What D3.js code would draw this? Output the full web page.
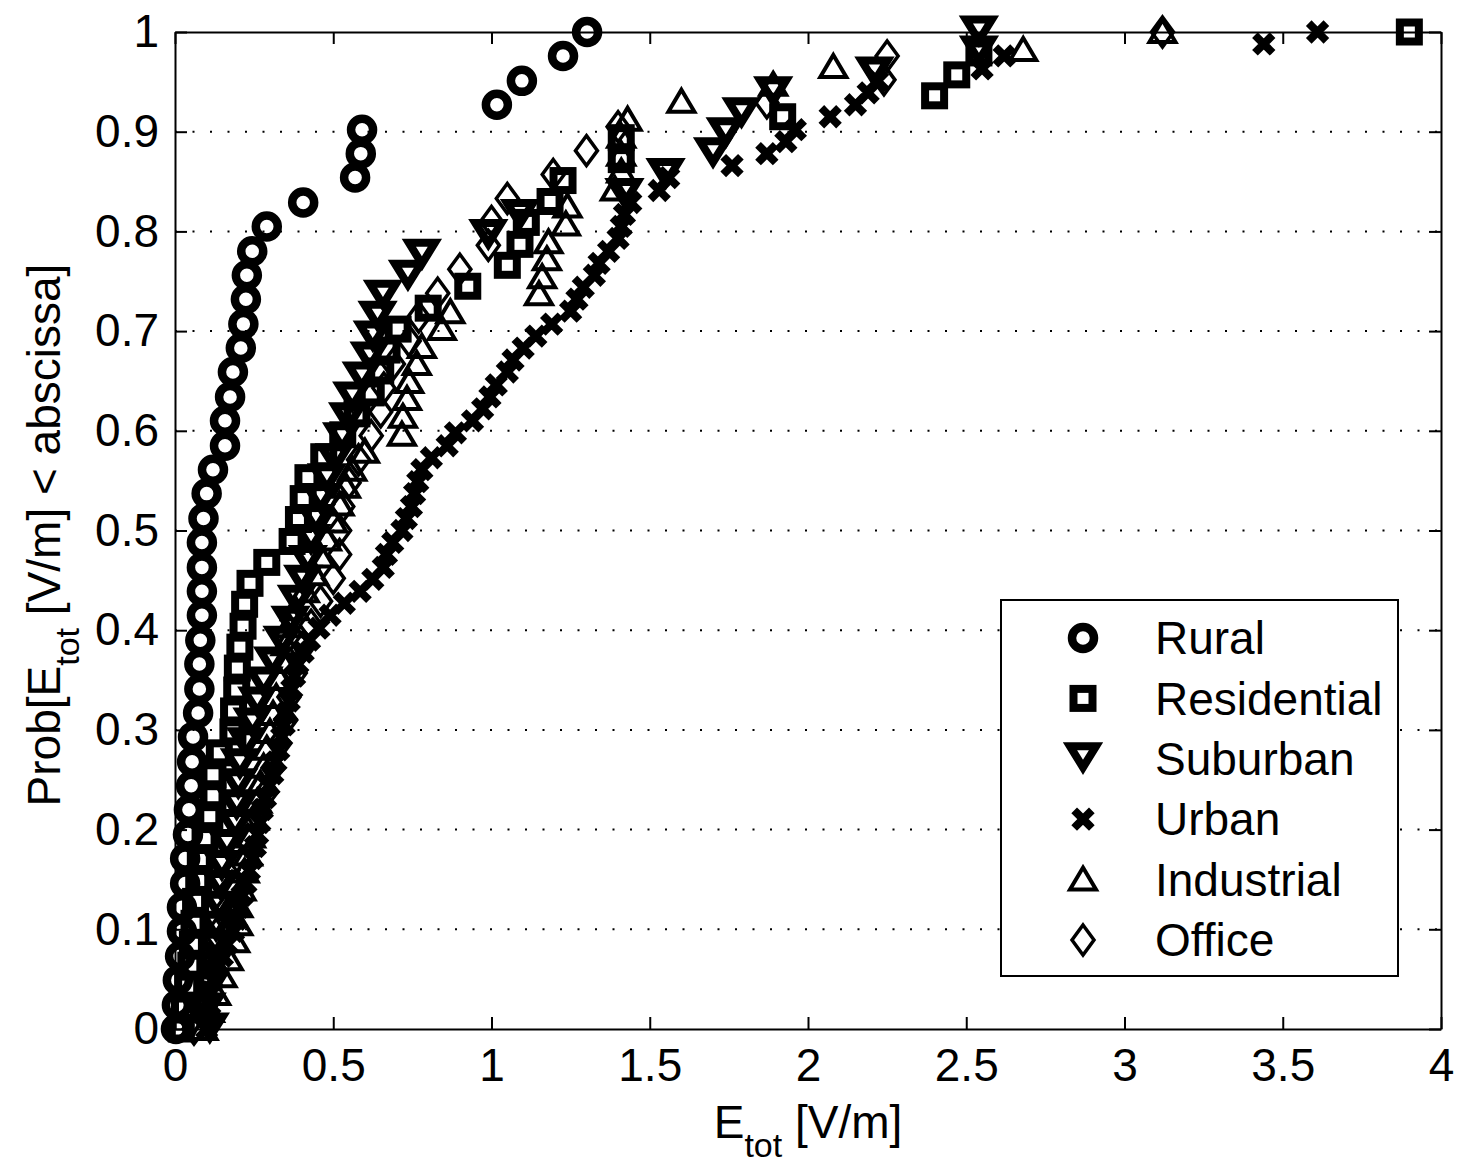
<!DOCTYPE html>
<html>
<head>
<meta charset="utf-8">
<script src="https://cdn.jsdelivr.net/npm/d3@7"></script>
<style>
  body { margin: 0; background: #fff; }
  text { font-family: "Liberation Sans", Arial, Helvetica, sans-serif; fill: #000; }
</style>
</head>
<body>
<svg id="chart"></svg>
<script>
// tick values
const xTicks = [0, 0.5, 1, 1.5, 2, 2.5, 3, 3.5, 4];
const yTicks = [0, 0.1, 0.2, 0.3, 0.4, 0.5, 0.6, 0.7, 0.8, 0.9, 1];
const seriesNames = ["Rural", "Residential", "Suburban", "Urban", "Industrial", "Office"];

// [E_tot, probability]
const rural = [
  [0.003,0.000],[0.006,0.024],[0.009,0.049],[0.016,0.073],[0.022,0.098],[0.022,0.122],
  [0.032,0.146],[0.032,0.171],[0.041,0.195],[0.044,0.220],[0.051,0.244],[0.054,0.268],
  [0.057,0.293],[0.073,0.317],[0.077,0.341],[0.077,0.366],[0.080,0.390],[0.085,0.415],
  [0.085,0.439],[0.085,0.463],[0.085,0.488],[0.090,0.512],[0.100,0.537],[0.120,0.561],
  [0.158,0.585],[0.158,0.610],[0.174,0.634],[0.183,0.659],[0.208,0.683],[0.216,0.707],
  [0.224,0.732],[0.227,0.756],[0.244,0.780],[0.290,0.805],[0.405,0.829],[0.569,0.854],
  [0.587,0.878],[0.591,0.902],[1.017,0.927],[1.096,0.951],[1.226,0.976],[1.302,1.000]
];
const residential = [
  [0.020,0.000],[0.030,0.021],[0.040,0.043],[0.050,0.064],[0.055,0.085],[0.060,0.106],
  [0.065,0.128],[0.075,0.149],[0.080,0.170],[0.095,0.191],[0.110,0.213],[0.120,0.234],
  [0.120,0.255],[0.140,0.277],[0.183,0.298],[0.185,0.319],[0.195,0.340],[0.197,0.362],
  [0.205,0.383],[0.215,0.404],[0.220,0.426],[0.237,0.447],[0.290,0.468],[0.370,0.489],
  [0.390,0.511],[0.405,0.532],[0.420,0.553],[0.470,0.574],[0.530,0.596],[0.575,0.617],
  [0.620,0.638],[0.650,0.660],[0.670,0.681],[0.705,0.702],[0.800,0.723],[0.925,0.745],
  [1.050,0.766],[1.090,0.787],[1.110,0.809],[1.185,0.830],[1.226,0.851],[1.410,0.872],
  [1.410,0.894],[1.920,0.915],[2.400,0.936],[2.470,0.957],[2.540,0.979],[3.900,1.000]
];
const suburban = [
  [0.110,0.000],[0.100,0.020],[0.110,0.041],[0.120,0.061],[0.120,0.082],[0.130,0.102],
  [0.140,0.122],[0.145,0.143],[0.148,0.163],[0.164,0.184],[0.190,0.204],[0.195,0.224],
  [0.200,0.245],[0.205,0.265],[0.225,0.286],[0.245,0.306],[0.260,0.327],[0.280,0.347],
  [0.310,0.367],[0.340,0.388],[0.365,0.408],[0.385,0.429],[0.405,0.449],[0.420,0.469],
  [0.430,0.490],[0.445,0.510],[0.460,0.531],[0.480,0.551],[0.505,0.571],[0.528,0.592],
  [0.547,0.612],[0.560,0.633],[0.590,0.653],[0.615,0.673],[0.625,0.694],[0.640,0.714],
  [0.657,0.735],[0.736,0.755],[0.780,0.776],[0.990,0.796],[1.090,0.816],[1.420,0.837],
  [1.550,0.857],[1.700,0.878],[1.740,0.898],[1.790,0.918],[1.890,0.939],[2.210,0.959],
  [2.540,0.980],[2.540,1.000]
];
const urban = [
  [0.100,0.000],[0.100,0.012],[0.110,0.024],[0.115,0.037],[0.120,0.049],[0.130,0.061],
  [0.150,0.073],[0.165,0.085],[0.185,0.098],[0.195,0.110],[0.203,0.122],[0.212,0.134],
  [0.224,0.146],[0.235,0.159],[0.245,0.171],[0.254,0.183],[0.261,0.195],[0.268,0.207],
  [0.276,0.220],[0.286,0.232],[0.297,0.244],[0.309,0.256],[0.319,0.268],[0.328,0.280],
  [0.337,0.293],[0.345,0.305],[0.353,0.317],[0.361,0.329],[0.369,0.341],[0.378,0.354],
  [0.388,0.366],[0.405,0.378],[0.425,0.390],[0.455,0.402],[0.490,0.415],[0.535,0.427],
  [0.585,0.439],[0.625,0.451],[0.658,0.463],[0.668,0.476],[0.688,0.488],[0.717,0.500],
  [0.731,0.512],[0.747,0.524],[0.757,0.537],[0.767,0.549],[0.780,0.561],[0.810,0.573],
  [0.860,0.585],[0.886,0.598],[0.940,0.610],[0.972,0.622],[0.995,0.634],[1.015,0.646],
  [1.050,0.659],[1.068,0.671],[1.100,0.683],[1.140,0.695],[1.190,0.707],[1.250,0.720],
  [1.270,0.732],[1.290,0.744],[1.325,0.756],[1.340,0.768],[1.370,0.780],[1.400,0.793],
  [1.410,0.805],[1.420,0.817],[1.440,0.829],[1.530,0.841],[1.560,0.854],[1.760,0.866],
  [1.870,0.878],[1.930,0.890],[1.960,0.902],[2.070,0.915],[2.150,0.927],[2.190,0.939],
  [2.220,0.951],[2.550,0.963],[2.620,0.976],[3.440,0.988],[3.610,1.000]
];
const industrial = [
  [0.090,0.000],[0.110,0.018],[0.130,0.035],[0.150,0.053],[0.170,0.070],[0.190,0.088],
  [0.200,0.105],[0.200,0.123],[0.210,0.140],[0.220,0.158],[0.230,0.175],[0.240,0.193],
  [0.250,0.211],[0.260,0.228],[0.270,0.246],[0.280,0.263],[0.290,0.281],[0.300,0.298],
  [0.310,0.316],[0.320,0.333],[0.330,0.351],[0.340,0.368],[0.350,0.386],[0.360,0.404],
  [0.380,0.421],[0.410,0.439],[0.440,0.456],[0.460,0.474],[0.480,0.491],[0.500,0.509],
  [0.520,0.526],[0.540,0.544],[0.560,0.561],[0.600,0.579],[0.717,0.596],[0.720,0.614],
  [0.733,0.632],[0.740,0.649],[0.764,0.667],[0.780,0.684],[0.843,0.702],[0.870,0.719],
  [1.150,0.737],[1.160,0.754],[1.175,0.772],[1.180,0.789],[1.235,0.807],[1.240,0.825],
  [1.390,0.842],[1.410,0.860],[1.410,0.877],[1.410,0.895],[1.430,0.912],[1.600,0.930],
  [1.890,0.947],[2.080,0.965],[2.680,0.982],[3.120,1.000]
];
const office = [
  [0.060,0.000],[0.080,0.024],[0.100,0.048],[0.110,0.071],[0.130,0.095],[0.160,0.119],
  [0.180,0.143],[0.210,0.167],[0.230,0.190],[0.260,0.214],[0.290,0.238],[0.310,0.262],
  [0.330,0.286],[0.350,0.310],[0.360,0.333],[0.380,0.357],[0.400,0.381],[0.430,0.405],
  [0.460,0.429],[0.500,0.452],[0.520,0.476],[0.520,0.500],[0.530,0.524],[0.550,0.548],
  [0.580,0.571],[0.620,0.595],[0.650,0.619],[0.660,0.643],[0.690,0.667],[0.740,0.690],
  [0.770,0.714],[0.830,0.738],[0.900,0.762],[0.990,0.786],[1.000,0.810],[1.050,0.833],
  [1.195,0.857],[1.300,0.881],[1.400,0.905],[1.870,0.929],[2.240,0.952],[2.250,0.976],
  [3.120,1.000]
];
const allSeries = [rural, residential, suburban, urban, industrial, office];

const width = 1457, height = 1167;
const plotLeft = 175, plotRight = 1441, plotTop = 32, plotBottom = 1029;

const svg = d3.select('#chart')
  .attr('width', width)
  .attr('height', height);

const x = d3.scaleLinear().domain([0, 4]).range([plotLeft, plotRight]);
const y = d3.scaleLinear().domain([0, 1]).range([plotBottom, plotTop]);

// dotted horizontal grid
svg.append('g')
  .selectAll('line')
  .data(yTicks.filter(d => d > 0 && d < 1))
  .enter()
  .append('line')
  .attr('x1', plotLeft).attr('x2', plotRight)
  .attr('y1', d => y(d)).attr('y2', d => y(d))
  .attr('stroke', '#000')
  .attr('stroke-width', 2)
  .attr('stroke-dasharray', '2,15.5');

const fmt = d => String(+d.toFixed(1));

// axes, ticks point inward like matlab
svg.append('g')
  .attr('transform', `translate(0,${plotBottom})`)
  .call(d3.axisBottom(x).tickValues(xTicks).tickFormat(fmt).tickSizeInner(-12).tickSizeOuter(0).tickPadding(19));
svg.append('g')
  .attr('transform', `translate(0,${plotTop})`)
  .call(d3.axisTop(x).tickValues(xTicks).tickFormat('').tickSizeInner(-12).tickSizeOuter(0));
svg.append('g')
  .attr('transform', `translate(${plotLeft},0)`)
  .call(d3.axisLeft(y).tickValues(yTicks).tickFormat(fmt).tickSizeInner(-12).tickSizeOuter(0).tickPadding(16));
svg.append('g')
  .attr('transform', `translate(${plotRight},0)`)
  .call(d3.axisRight(y).tickValues(yTicks).tickFormat('').tickSizeInner(-12).tickSizeOuter(0));

svg.selectAll('.domain').attr('stroke', '#000').attr('stroke-width', 2);
svg.selectAll('.tick line').attr('stroke', '#000').attr('stroke-width', 2);
svg.selectAll('.tick text')
  .attr('font-family', '"Liberation Sans", Arial, sans-serif')
  .attr('font-size', 46)
  .attr('fill', '#000');

// marker shapes (heavy matlab-style strokes)
function drawMarker(g, kind) {
  if (kind === 0) {
    g.append('circle').attr('r', 11).attr('fill', 'none').attr('stroke', '#000').attr('stroke-width', 8.5);
  } else if (kind === 1) {
    g.append('rect').attr('x', -9.5).attr('y', -9.5).attr('width', 19).attr('height', 19)
      .attr('fill', 'none').attr('stroke', '#000').attr('stroke-width', 8);
  } else if (kind === 2) {
    g.append('path').attr('d', 'M-13,-12.5L13,-12.5L0,8.5Z')
      .attr('fill', 'none').attr('stroke', '#000').attr('stroke-width', 8).attr('stroke-linejoin', 'miter');
  } else if (kind === 3) {
    g.append('path').attr('d', 'M-6,-6L6,6M-6,6L6,-6')
      .attr('fill', 'none').attr('stroke', '#000').attr('stroke-width', 8).attr('stroke-linecap', 'square');
  } else if (kind === 4) {
    g.append('path').attr('d', 'M0,-12L13,10L-13,10Z')
      .attr('fill', 'none').attr('stroke', '#000').attr('stroke-width', 4).attr('stroke-linejoin', 'miter');
  } else {
    g.append('path').attr('d', 'M0,-15L11,0L0,15L-11,0Z')
      .attr('fill', 'none').attr('stroke', '#000').attr('stroke-width', 3.5).attr('stroke-linejoin', 'miter');
  }
}

allSeries.forEach((data, i) => {
  svg.append('g')
    .attr('class', 'series-' + i)
    .selectAll('g')
    .data(data)
    .enter()
    .append('g')
    .attr('transform', d => `translate(${x(d[0])},${y(d[1])})`)
    .each(function () { drawMarker(d3.select(this), i); });
});

// legend
const legend = svg.append('g');
legend.append('rect')
  .attr('x', 1001).attr('y', 600).attr('width', 397).attr('height', 376)
  .attr('fill', '#fff').attr('stroke', '#000').attr('stroke-width', 2);
seriesNames.forEach((name, i) => {
  const row = legend.append('g').attr('transform', `translate(0,${638 + i * 60.4})`);
  drawMarker(row.append('g').attr('transform', 'translate(1083,0)'), i);
  row.append('text')
    .attr('x', 1155).attr('dy', '0.35em')
    .attr('font-size', 46)
    .text(name);
});

// axis labels
const xl = svg.append('text')
  .attr('x', (plotLeft + plotRight) / 2).attr('y', 1138)
  .attr('text-anchor', 'middle')
  .attr('font-size', 46);
xl.append('tspan').text('E');
xl.append('tspan').attr('dy', 19).attr('font-size', 34).text('tot');
xl.append('tspan').attr('dy', -19).text(' [V/m]');

const yl = svg.append('text')
  .attr('transform', `translate(60,535) rotate(-90)`)
  .attr('text-anchor', 'middle')
  .attr('font-size', 46);
yl.append('tspan').text('Prob[E');
yl.append('tspan').attr('dy', 19).attr('font-size', 34).text('tot');
yl.append('tspan').attr('dy', -19).text(' [V/m] < abscissa]');
</script>
</body>
</html>
